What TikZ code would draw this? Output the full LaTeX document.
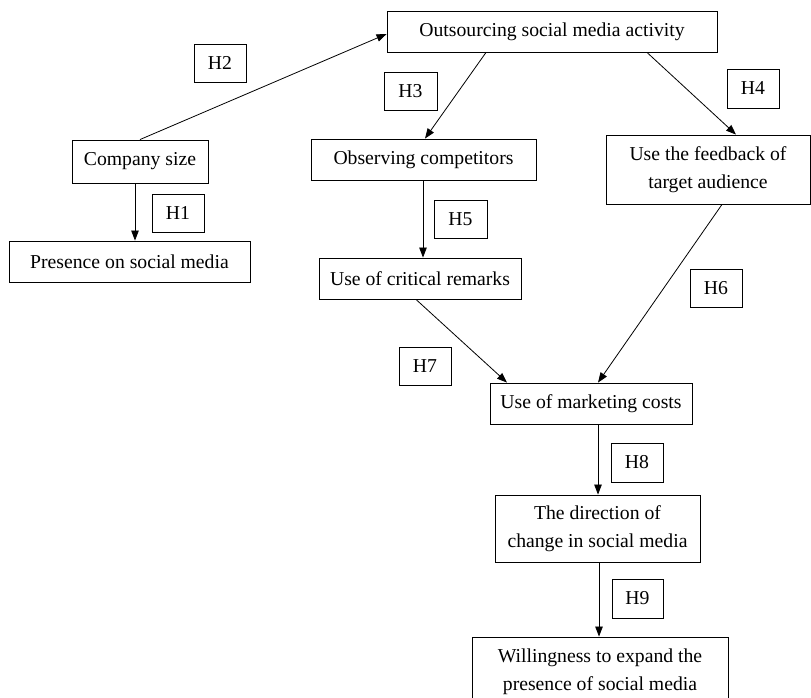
\documentclass[tikz,border=0pt]{standalone}
\usepackage{fontspec}
\setmainfont{Liberation Serif}
\usetikzlibrary{arrows.meta}
\tikzset{
  box/.style={draw, line width=0.9pt, inner sep=0pt, align=center, font=\fontsize{19.7}{28}\selectfont},
  hbox/.style={box, minimum width=52pt, minimum height=38pt},
  link/.style={line width=0.8pt, -{Triangle[length=10pt,width=7.5pt]}}
}
\begin{document}
\begin{tikzpicture}[x=1pt,y=-1pt]
\useasboundingbox[fill=white] (0,0) rectangle (811,697);
\node[box, minimum width=330pt, minimum height=41pt] (out) at (552,31.5) {Outsourcing social media activity};
\node[hbox] (h2) at (220,63) {H2};
\node[hbox, minimum width=53pt] (h3) at (410.5,91) {H3};
\node[hbox, minimum height=39pt] (h4) at (753,88.5) {H4};
\node[box, minimum width=136pt, minimum height=43pt] (size) at (140,161.5) {Company size};
\node[hbox] (h1) at (178,213) {H1};
\node[box, minimum width=241pt, minimum height=41pt] (pres) at (129.5,261.5) {Presence on social media};
\node[box, minimum width=225pt, minimum height=41pt] (obs) at (423.5,159.5) {Observing competitors};
\node[box, minimum width=204pt, minimum height=69pt] (fb) at (708,169.5) {Use the feedback of\\target audience};
\node[hbox, minimum width=53pt] (h5) at (460.5,219) {H5};
\node[box, minimum width=202pt, minimum height=41pt] (crit) at (420,278.5) {Use of critical remarks};
\node[hbox] (h6) at (716,288) {H6};
\node[hbox] (h7) at (425,366) {H7};
\node[box, minimum width=202pt, minimum height=41pt] (mkt) at (591,403.5) {Use of marketing costs};
\node[hbox, minimum height=39pt] (h8) at (637,462.5) {H8};
\node[box, minimum width=205pt, minimum height=67pt] (dir) at (597.5,528.5) {The direction of\\change in social media};
\node[hbox, minimum width=51pt, minimum height=39pt] (h9) at (637.5,598.5) {H9};
\node[box, minimum width=256pt, minimum height=69pt] (will) at (600,671.5) {Willingness to expand the\\presence of social media};

\draw[link] (size.north) -- ([yshift=-2.5pt]out.west);
\draw[link] ([xshift=-5pt]size.south) -- ([xshift=-5pt]size.south |- pres.north);
\draw[link] ([xshift=-66pt]out.south) -- ([xshift=1.5pt]obs.north);
\draw[link] ([xshift=95pt]out.south) -- ([xshift=28pt]fb.north);
\draw[link] ([xshift=-0.5pt]obs.south) -- ([xshift=-0.5pt]obs.south |- crit.north);
\draw[link] ([xshift=14pt]fb.south) -- ([xshift=7pt]mkt.north);
\draw[link] ([xshift=-4pt]crit.south) -- ([xshift=-84pt]mkt.north);
\draw[link] ([xshift=7pt]mkt.south) -- ([xshift=7pt]mkt.south |- dir.north);
\draw[link] ([xshift=1.5pt]dir.south) -- ([xshift=1.5pt]dir.south |- will.north);
\end{tikzpicture}
\end{document}
